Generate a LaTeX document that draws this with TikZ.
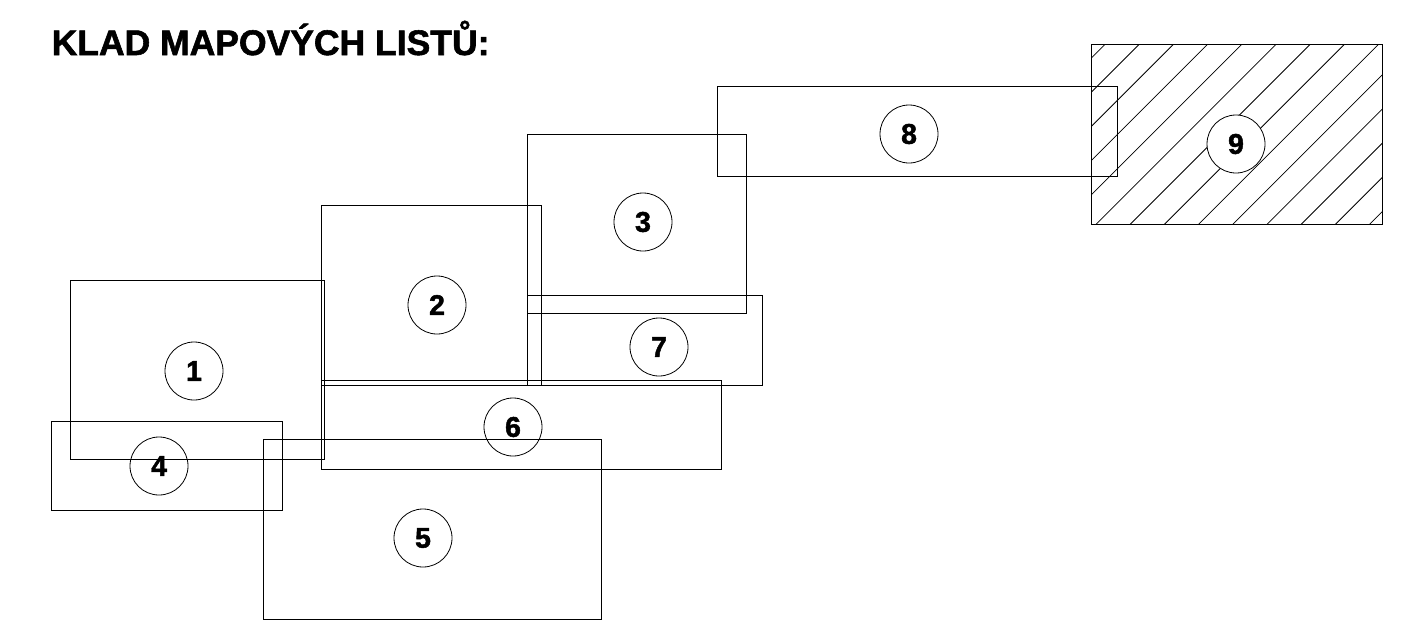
\documentclass[tikz,border=0pt]{standalone}
\usepackage{fontspec}
\setmainfont{Liberation Sans}
\newfontfamily\heavyfont[FakeBold=1.6]{Liberation Sans Bold}
\begin{document}
\begin{tikzpicture}[x=1pt,y=-1pt,
  sheet/.style={draw=black,line width=0.9pt},
  hatchline/.style={draw=black,line width=0.8pt},
  num/.style={circle,draw=black,line width=0.8pt,minimum size=58pt,inner sep=0pt,
    font=\heavyfont\fontsize{28.5}{30}\selectfont}]
\useasboundingbox (0,0) rectangle (1421,629);
\node[anchor=base west,inner sep=0pt,font=\heavyfont\fontsize{35.5}{38}\selectfont] (title) at (51.5,55) {KLAD MAPOVÝCH LISTŮ:};
% hatching of sheet 9
\begin{scope}
  \clip (1091,44) rectangle (1382,224);
  \foreach \k in {0,...,13}{
    \pgfmathsetmacro\c{1149.3+34.2*\k}
    \draw[hatchline] (\c-240,240) -- (\c-30,30);
  }
\end{scope}
% sheets
\draw[sheet] (70,280) rectangle (324,459);
\draw[sheet] (321,205) rectangle (541,385);
\draw[sheet] (527,134) rectangle (746,313);
\draw[sheet] (51,421) rectangle (282,510);
\draw[sheet] (263,439) rectangle (601,619);
\draw[sheet] (321,380) rectangle (721,469);
\draw[sheet] (527,295) rectangle (762,385);
\draw[sheet] (717,86) rectangle (1117,176);
\draw[sheet] (1091,44) rectangle (1382,224);
% numbers
\node[num] (n1) at (194,371) {1};
\node[num] (n2) at (437,305) {2};
\node[num] (n3) at (643,222) {3};
\node[num] (n4) at (159,466) {4};
\node[num] (n5) at (423,538) {5};
\node[num] (n6) at (513,427) {6};
\node[num] (n7) at (659,347) {7};
\node[num] (n8) at (909,134) {8};
\node[num,fill=white] (n9) at (1236,144) {9};
\end{tikzpicture}
\end{document}
